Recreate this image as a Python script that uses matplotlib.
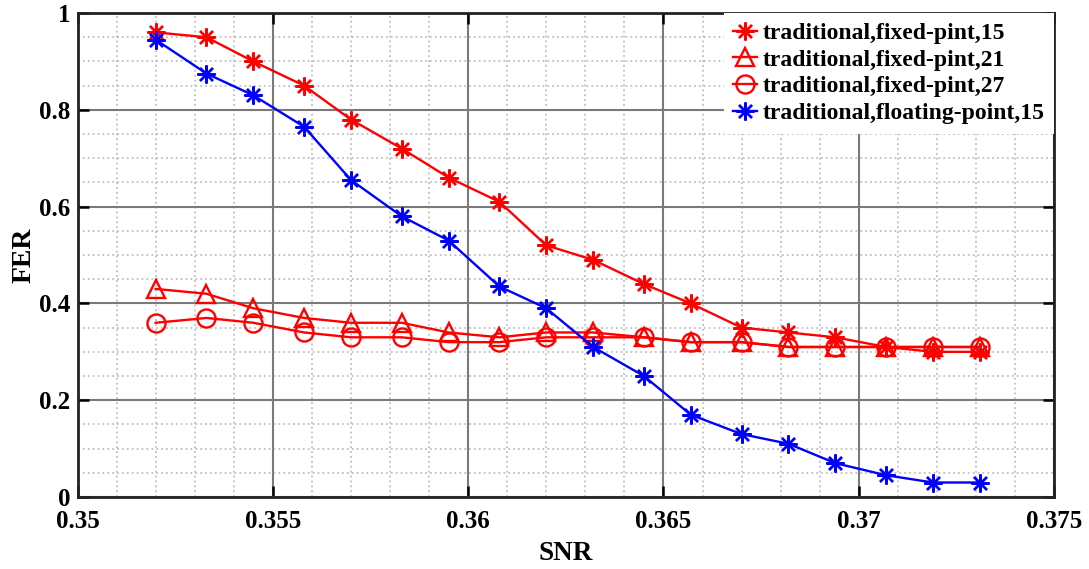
import numpy as np
from matplotlib import pyplot as plt
from matplotlib.ticker import MultipleLocator

plt.rcParams['font.family'] = ['Liberation Serif', 'DejaVu Serif']
plt.rcParams['font.weight'] = 'bold'

snr = [0.3520, 0.3533, 0.3545, 0.3558, 0.3570, 0.3583, 0.3595, 0.3608, 0.3620,
       0.3632, 0.3645, 0.3657, 0.3670, 0.3682, 0.3694, 0.3707, 0.3719, 0.3731]

fer_fixed15 = [0.96, 0.95, 0.90, 0.85, 0.78, 0.72, 0.66, 0.61, 0.52,
               0.49, 0.44, 0.40, 0.35, 0.34, 0.33, 0.31, 0.30, 0.30]
fer_fixed21 = [0.43, 0.42, 0.39, 0.37, 0.36, 0.36, 0.34, 0.33, 0.34,
               0.34, 0.33, 0.32, 0.32, 0.31, 0.31, 0.31, 0.31, 0.31]
fer_fixed27 = [0.36, 0.37, 0.36, 0.34, 0.33, 0.33, 0.32, 0.32, 0.33,
               0.33, 0.33, 0.32, 0.32, 0.31, 0.31, 0.31, 0.31, 0.31]
fer_float15 = [0.945, 0.875, 0.83, 0.765, 0.655, 0.58, 0.53, 0.435, 0.39,
               0.31, 0.25, 0.17, 0.13, 0.11, 0.07, 0.045, 0.03, 0.03]

labels = ['traditional,fixed-pint,15', 'traditional,fixed-pint,21',
          'traditional,fixed-pint,27', 'traditional,floating-point,15']

star = (8, 2, 0)

fig = plt.figure(figsize=(10.89, 5.69), dpi=100)
ax = fig.add_axes([0.0712, 0.1265, 0.8967, 0.8506])

ax.plot(snr, fer_fixed15, color='#ff0000', lw=1.7, marker=star, ms=13, mew=1.7, label=labels[0])
ax.plot(snr, fer_fixed21, color='#ff0000', lw=1.7, marker='^', ms=13, mew=1.7,
        mfc='none', label=labels[1])
ax.plot(snr, fer_fixed27, color='#ff0000', lw=1.7, marker='o', ms=13, mew=1.7,
        mfc='none', label=labels[2])
ax.plot(snr, fer_float15, color='#0000ff', lw=1.7, marker=star, ms=13, mew=1.7, label=labels[3])

ax.set_xlim(0.35, 0.375)
ax.set_ylim(0, 1)
ax.xaxis.set_minor_locator(MultipleLocator(0.001))
ax.yaxis.set_minor_locator(MultipleLocator(0.05))
ax.set_xticks([0.35, 0.355, 0.36, 0.365, 0.37, 0.375])
ax.set_xticklabels(['0.35', '0.355', '0.36', '0.365', '0.37', '0.375'])
ax.set_yticks([0, 0.2, 0.4, 0.6, 0.8, 1])
ax.set_yticklabels(['0', '0.2', '0.4', '0.6', '0.8', '1'])

ax.grid(which='major', color='#7a7a7a', lw=1.5, ls='-')
ax.grid(which='minor', color='#b5b5b5', lw=1.1, ls=(0, (1.2, 2)))
ax.set_axisbelow(True)

ax.tick_params(which='major', direction='in', length=8, width=1.8, top=True, right=True,
               labelsize=18)
ax.tick_params(axis='x', pad=9)
ax.tick_params(axis='y', pad=5)
ax.tick_params(which='minor', length=0)
for s in ax.spines.values():
    s.set_linewidth(2)
    s.set_color('#222222')

ax.set_xlabel('SNR', fontsize=19.5, fontweight='bold', labelpad=6)
ax.set_ylabel('FER', fontsize=20, fontweight='bold', labelpad=2)

leg = ax.legend(loc='upper right', handlelength=1.0, handletextpad=0.25,
                labelspacing=0.22, borderaxespad=0, borderpad=0.4, frameon=True,
                fancybox=False, prop={'weight': 'bold', 'size': 17})
leg.get_frame().set_facecolor('white')
leg.get_frame().set_alpha(1)
leg.get_frame().set_edgecolor('none')

fig.savefig('out.png', dpi=100)
